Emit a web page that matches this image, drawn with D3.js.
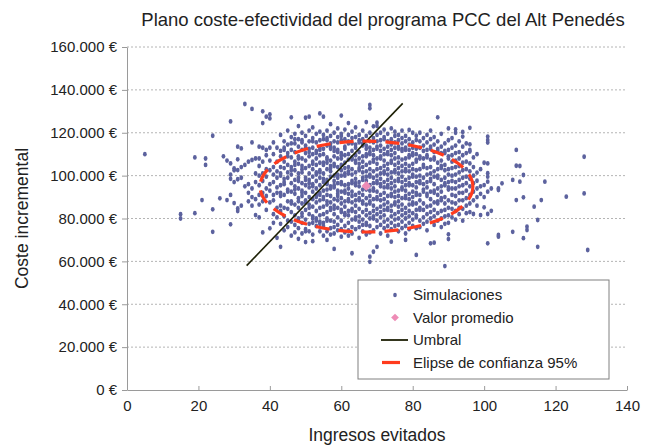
<!DOCTYPE html>
<html>
<head>
<meta charset="utf-8">
<script src="https://cdn.jsdelivr.net/npm/d3@7"></script>
<style>
  body { margin: 0; background: #fff; }
  svg { display: block; font-family: "Liberation Sans", Arial, sans-serif; }
</style>
</head>
<body>
<div id="chart"></div>
<script>
// Ingresos evitados (x, enteros) -> costes incrementales de cada simulación (miles de €)
const simulaciones = [
  [5, [110]],
  [15, [82, 80]],
  [19, [108.5, 82.5]],
  [21, [88.6]],
  [22, [108, 105]],
  [24, [118.6, 84.3, 73.8]],
  [26, [89.4]],
  [27, [109]],
  [28, [107, 88.6]],
  [29, [125.3, 105.7, 100.5, 98.5, 91, 77.3]],
  [30, [103.4, 102.5, 97, 87.2]],
  [31, [113.5, 107.6, 102.6, 98.3, 84.7, 83.5]],
  [32, [112.7, 104, 99, 86]],
  [33, [133.4, 105, 95]],
  [34, [106.5, 96, 92, 88]],
  [35, [131.1, 115.5, 107.3, 94, 90, 86]],
  [36, [108, 101, 97, 89, 81.6]],
  [37, [113.5, 108, 104.5, 100, 95.5, 91, 86.5, 80.5]],
  [38, [130, 124.5, 113, 106.5, 101, 97.5, 92, 88, 73.5]],
  [39, [127.5, 112, 109.5, 103, 99.5, 94, 90.5, 84]],
  [40, [128.6, 126.7, 113, 107, 102.5, 96, 93, 87.5, 75.4]],
  [41, [115.5, 110, 104, 100.5, 97, 91, 88.5, 82, 78]],
  [42, [113, 106.5, 102, 99, 94.5, 92, 85, 80.5, 71]],
  [43, [119, 111.5, 109, 104, 101, 100, 95.5, 92, 90.5, 86, 83.5, 77.5, 66.8]],
  [44, [116, 113, 112, 106.5, 103.5, 98.5, 97, 96, 91, 85, 81, 74.5]],
  [45, [121, 114.5, 110.5, 109, 105, 101.5, 99, 93.5, 92.5, 88, 84.5, 79, 76]],
  [46, [127.2, 118, 115, 112, 108.5, 104, 102.5, 100.5, 96.5, 92.5, 88, 87, 83, 78.5, 72]],
  [47, [119.5, 117, 115, 111, 106.5, 105, 102.5, 98, 95, 93.5, 91.5, 86.5, 81.5, 77, 73.5]],
  [48, [123.1, 117, 113.5, 109, 108, 105.5, 101, 99, 97.5, 94, 89.5, 88, 85, 80, 79, 75.5, 70.5]],
  [49, [120, 116.5, 115.5, 112, 108, 104.5, 103, 101.5, 96.5, 93, 92, 90.5, 87, 82.5, 81, 78, 73]],
  [50, [127, 118.5, 114, 113, 110.5, 107, 103.5, 99, 98, 95.5, 92, 88.5, 87.5, 84, 79.5, 75, 74, 69]],
  [51, [127.5, 121, 116, 112.5, 111, 109, 104.5, 101, 98, 96.5, 94.5, 90, 86.5, 85, 82, 77.5, 74]],
  [52, [122.5, 117.5, 116, 113, 110, 106.5, 105.5, 103, 99.5, 96, 95, 92.5, 89, 85.5, 81, 80, 78, 72.5, 69.4]],
  [53, [119.5, 115.5, 111.5, 110.5, 108, 105, 101.5, 100.5, 97.5, 94, 91, 90, 87.5, 83.5, 80, 79, 76.5]],
  [54, [129, 120.5, 116.5, 113, 112, 109.5, 106, 102.5, 101.5, 99, 95.5, 92, 91, 88.5, 85, 81.5, 78.5, 77.5, 74]],
  [55, [127.5, 119, 117, 112.5, 110, 106, 105, 101, 98.5, 97, 93, 90, 89, 85.5, 82, 78, 76.5, 72]],
  [56, [121, 117.5, 116.5, 114, 108.5, 107.5, 106, 103, 98, 97, 96, 93.5, 91, 88, 86.5, 83, 80, 79, 74, 70]],
  [57, [124, 118.5, 115, 113.5, 112.5, 107, 104.5, 103.5, 102, 99.5, 95, 94, 90.5, 87.5, 85, 84, 79, 75.5, 72.5]],
  [58, [120, 116, 113, 111.5, 109, 105.5, 104.5, 100, 97.5, 95.5, 94.5, 89, 86, 84.5, 82, 78.5, 76, 73, 65.8]],
  [59, [122, 118, 115.5, 112, 111, 108, 104, 100.5, 99, 96.5, 93, 91.5, 90.5, 88.5, 85, 80.5, 77, 74.5]],
  [60, [128, 119.5, 118.5, 116.5, 110.5, 109.5, 108, 105, 102.5, 100, 97, 96, 92.5, 89.5, 87, 84, 83, 79, 75, 71.5]],
  [61, [121.5, 117, 113.5, 112.5, 109.5, 106, 103.5, 101, 100, 95.5, 93, 92, 88, 85.5, 82.5, 81.5, 76.5, 73.5]],
  [62, [124.5, 119, 116, 115, 110, 107.5, 104, 102, 101, 96, 94, 91.5, 89, 88, 83.5, 81.5, 78, 74.5, 72]],
  [63, [120.5, 117.5, 115, 111.5, 108.5, 107.5, 103, 100.5, 97.5, 96.5, 92.5, 90.5, 87.5, 84.5, 83.5, 79.5, 76, 73, 63.8]],
  [64, [122.5, 118, 114.5, 113, 109.5, 107, 106, 101.5, 98.5, 96.5, 95.5, 91, 88.5, 86, 83, 80.5, 79.5, 75]],
  [65, [119, 116.5, 115.5, 111, 108, 105.5, 103.5, 102.5, 97, 95, 92, 89.5, 88.5, 84.5, 81, 78.5, 76, 71]],
  [66, [121, 117, 115, 114, 109, 106.5, 104, 101.5, 99, 98, 93.5, 91, 88, 87, 83, 79.5, 77, 74]],
  [67, [125, 118.5, 114, 112.5, 110, 109, 105, 102, 99.5, 97.5, 94.5, 93.5, 89.5, 86.5, 84, 81.5, 78, 77, 72.5]],
  [68, [133, 131.4, 120, 116, 113, 111, 110, 106, 103, 100.5, 99.5, 95.5, 93, 90.5, 88, 87, 82.5, 80, 76.5, 73.5, 62.2, 59.8]],
  [69, [123, 117.5, 115.5, 112, 109.5, 107.5, 106.5, 102, 99, 96.5, 94, 93, 89, 86, 83.5, 81, 80, 74.5, 64.5]],
  [70, [124.7, 123.1, 119, 116, 113.5, 112.5, 108, 105.5, 103, 100, 97.5, 96.5, 92.5, 90, 89, 84.5, 82, 79, 76, 66.8]],
  [71, [120, 116.5, 114, 111.5, 109, 108, 103.5, 101, 98.5, 96, 95, 91, 88.5, 85.5, 83, 80.5, 77, 73]],
  [72, [121.5, 118, 117, 112.5, 110, 107, 104.5, 102, 101, 97, 94.5, 92, 89, 86.5, 84, 81.5, 78.5, 75.5]],
  [73, [119.5, 116, 113.5, 111, 110, 105.5, 103, 100.5, 98, 95.5, 94.5, 90.5, 87.5, 85, 84, 79.5, 76.5, 72]],
  [74, [122, 117, 114.5, 112, 109.5, 107, 106, 101.5, 99, 96.5, 94, 91.5, 90.5, 86, 83.5, 81, 78, 75, 69.2]],
  [75, [120.5, 118.5, 115.5, 113, 110.5, 108, 105, 102.5, 101.5, 97.5, 95, 92.5, 90, 87.5, 86.5, 82, 79.5, 76.5]],
  [76, [119, 116.5, 113.5, 112.5, 108.5, 106, 103.5, 101, 98.5, 97.5, 93, 90.5, 88, 85.5, 83, 80, 77, 74]],
  [77, [121, 117.5, 115, 112.5, 111.5, 107.5, 104.5, 102, 99.5, 97, 94.5, 93.5, 89.5, 86.5, 84, 81.5, 78.5, 75.5]],
  [78, [118.5, 116, 113, 112, 108, 105.5, 103, 102, 98, 95.5, 93, 90.5, 89.5, 85, 82.5, 80, 76.5, 73, 70]],
  [79, [121.3, 117, 114.5, 112, 109.5, 108.5, 104.5, 102, 99, 96.5, 95.5, 91.5, 89, 86.5, 83.5, 81, 78, 75]],
  [80, [120, 115.5, 113, 110.5, 109.5, 105.5, 103, 100.5, 99.5, 95.5, 92.5, 90, 87.5, 86.5, 82.5, 79.5, 76.5]],
  [81, [118.6, 116.6, 112.5, 110, 107.5, 106.5, 102.5, 99.5, 97, 94.5, 92, 91, 87, 84, 81.5, 80.5, 75.5, 63]],
  [82, [120, 116, 113, 109, 108, 103, 100, 97.5, 96.5, 91, 88.5, 85, 84, 79, 76]],
  [83, [117.5, 114, 111.5, 108, 105, 104, 99, 96, 93.5, 92.5, 87, 84, 80.5, 77.5]],
  [84, [119, 115.5, 112, 109.5, 108.5, 103.5, 100.5, 97, 94.5, 91.5, 90.5, 85.5, 82, 78.5, 74.5]],
  [85, [121, 117, 113.5, 112.5, 107.5, 104, 101, 98.5, 97.5, 92.5, 89, 86, 83, 80, 68.4]],
  [86, [118, 114.5, 111, 108.5, 107.5, 102, 99.5, 96, 93, 92, 87.5, 84, 81, 77, 68.7]],
  [87, [127.2, 116, 112.5, 111.5, 106, 103, 100, 99, 94, 91, 88, 87, 82.5, 79]],
  [88, [119.5, 113.5, 110.5, 107, 104.5, 103.5, 98, 95, 92.5, 89.5, 88.5, 83.5, 80, 76]],
  [89, [115, 111.5, 110.5, 105, 102.5, 99, 96.5, 95.5, 90, 87, 84, 81, 77.5, 57.8]],
  [90, [122, 116.5, 112, 109, 108, 103, 100.5, 97, 94.5, 93.5, 88.5, 85, 81.5, 78, 72.6, 70.4]],
  [91, [117.5, 113, 109.5, 106.5, 103.5, 100, 97.5, 94, 91, 87.5, 84.5, 80.5]],
  [92, [121.6, 120, 114, 110.5, 107, 104, 100.5, 97, 94, 90.5, 87, 83.5, 79.5]],
  [93, [116, 111, 108, 104.5, 101.5, 98, 95, 92, 88.5, 85, 82]],
  [94, [120.4, 118.2, 113.5, 109.5, 106, 102.5, 99, 95.5, 92, 88.5, 84.5, 79]],
  [95, [115, 110.5, 106.5, 103, 99.5, 96.5, 93, 89.5, 86, 82.5]],
  [96, [122.3, 114.6, 112, 111.2, 105.7, 102, 98.5, 95, 91, 87, 83]],
  [97, [108.5, 104, 100, 96.5, 92.5, 88.5, 82.1]],
  [98, [110, 101.4, 97.6, 94, 90, 86]],
  [99, [103, 95, 91.5, 81.6]],
  [100, [106, 95.6, 90, 85.2]],
  [101, [118.2, 116.6, 115.4, 105.7, 101.1, 99.5, 97.2, 92.5, 82.1, 68.4]],
  [102, [94, 83.6]],
  [104, [94, 93.3, 72.3, 71.5]],
  [105, [96.4]],
  [108, [98, 73.8]],
  [109, [112, 104.6, 88.6]],
  [110, [104.5, 97.2]],
  [111, [100.3, 89.9, 70.8]],
  [112, [76.2, 74.6]],
  [114, [85.5]],
  [115, [79.3, 66.8]],
  [116, [88.6]],
  [117, [97.2]],
  [123, [90.2]],
  [128, [108.8, 91.7]],
  [129, [65.3]]
];

const valorPromedio = [67, 95.2];               // [ingresos, miles de €]
const umbral = [[33.5, 58], [77.2, 133.7]];     // extremos de la recta umbral
const elipseCentro = [67.05, 94.9];
const elipseSemiejes = [29.8, 21.2];

const xTicks = [0, 20, 40, 60, 80, 100, 120, 140];
const yTicks = [0, 20, 40, 60, 80, 100, 120, 140, 160];

const leyenda = ["Simulaciones", "Valor promedio", "Umbral", "Elipse de confianza 95%"];

const W = 649, H = 447;
const margin = { top: 47, right: 22, bottom: 57, left: 127 };

const svg = d3.select("#chart").append("svg")
  .attr("width", W)
  .attr("height", H);

const x = d3.scaleLinear().domain([0, 140]).range([margin.left, W - margin.right]);
const y = d3.scaleLinear().domain([0, 160]).range([H - margin.bottom, margin.top]);

const euro = d3.formatLocale({ decimal: ",", thousands: ".", grouping: [3], currency: ["", " €"] }).format("$,.0f");

// gridlines
svg.append("g")
  .selectAll("line")
  .data(yTicks.filter(d => d > 0))
  .enter().append("line")
  .attr("x1", x(0)).attr("x2", x(140))
  .attr("y1", d => y(d)).attr("y2", d => y(d))
  .attr("stroke", "#b4b4b4")
  .attr("stroke-width", 1)
  .attr("stroke-dasharray", "2,2");

// puntos de las simulaciones
const puntos = [];
simulaciones.forEach(c => c[1].forEach(v => puntos.push([c[0], v])));

svg.append("g")
  .selectAll("ellipse")
  .data(puntos)
  .enter().append("ellipse")
  .attr("cx", d => x(d[0]))
  .attr("cy", d => y(d[1]))
  .attr("rx", 1.9)
  .attr("ry", 2.4)
  .attr("fill", "#5c629e");

// umbral
svg.append("path")
  .datum(umbral)
  .attr("d", d3.line().x(d => x(d[0])).y(d => y(d[1])))
  .attr("stroke", "#1d2005")
  .attr("stroke-width", 1.6)
  .attr("fill", "none");

// elipse de confianza
svg.append("ellipse")
  .attr("cx", x(elipseCentro[0]))
  .attr("cy", y(elipseCentro[1]))
  .attr("rx", x(elipseCentro[0] + elipseSemiejes[0]) - x(elipseCentro[0]))
  .attr("ry", y(elipseCentro[1]) - y(elipseCentro[1] + elipseSemiejes[1]))
  .attr("fill", "none")
  .attr("stroke", "#ff3b1d")
  .attr("stroke-width", 3.2)
  .attr("stroke-dasharray", "14,9");

// valor promedio
svg.append("path")
  .attr("d", d3.symbol().type(d3.symbolSquare).size(46)())
  .attr("transform", `translate(${x(valorPromedio[0])},${y(valorPromedio[1])}) rotate(45)`)
  .attr("fill", "#ee8cb6");

// ejes
const axisColor = "#9a9a9a";
const gx = svg.append("g")
  .attr("transform", `translate(0,${y(0)})`)
  .call(d3.axisBottom(x).tickValues(xTicks).tickSizeInner(-4).tickSizeOuter(0).tickPadding(10));
const gy = svg.append("g")
  .attr("transform", `translate(${x(0)},0)`)
  .call(d3.axisLeft(y).tickValues(yTicks).tickSize(5).tickSizeOuter(0).tickPadding(5).tickFormat(d => euro(d * 1000)));

[gx, gy].forEach(g => {
  g.select(".domain").attr("stroke", axisColor);
  g.selectAll(".tick line").attr("stroke", axisColor);
  g.selectAll(".tick text").attr("fill", "#222").style("font-size", "15px");
});
gx.selectAll(".tick text").attr("dy", "0.71em");

// títulos
svg.append("text")
  .attr("x", 383).attr("y", 26)
  .attr("text-anchor", "middle")
  .style("font-size", "18.5px")
  .attr("fill", "#222")
  .text("Plano coste-efectividad del programa PCC del Alt Penedés");

svg.append("text")
  .attr("x", (x(0) + x(140)) / 2).attr("y", 441)
  .attr("text-anchor", "middle")
  .style("font-size", "17.5px")
  .attr("fill", "#222")
  .text("Ingresos evitados");

svg.append("text")
  .attr("transform", `translate(28,${(y(0) + y(160)) / 2}) rotate(-90)`)
  .attr("text-anchor", "middle")
  .style("font-size", "17.5px")
  .attr("fill", "#222")
  .text("Coste incremental");

// leyenda
const lg = svg.append("g").attr("transform", "translate(358,280)");
lg.append("rect")
  .attr("width", 251).attr("height", 99)
  .attr("fill", "#fff")
  .attr("stroke", "#808080")
  .attr("stroke-width", 1);

const rowY = i => 15 + i * 22.5;
lg.append("ellipse").attr("cx", 37).attr("cy", rowY(0)).attr("rx", 1.8).attr("ry", 2.3).attr("fill", "#5c629e");
lg.append("path")
  .attr("d", d3.symbol().type(d3.symbolSquare).size(30)())
  .attr("transform", `translate(37,${rowY(1)}) rotate(45)`)
  .attr("fill", "#ee8cb6");
lg.append("line").attr("x1", 23).attr("x2", 50).attr("y1", rowY(2)).attr("y2", rowY(2))
  .attr("stroke", "#1d2005").attr("stroke-width", 1.8);
lg.append("line").attr("x1", 24).attr("x2", 42).attr("y1", rowY(3)).attr("y2", rowY(3))
  .attr("stroke", "#ff3b1d").attr("stroke-width", 3.2);

lg.selectAll("text.lab")
  .data(leyenda)
  .enter().append("text")
  .attr("class", "lab")
  .attr("x", 55)
  .attr("y", (d, i) => rowY(i) + 5)
  .style("font-size", "15px")
  .attr("fill", "#222")
  .text(d => d);
</script>
</body>
</html>
